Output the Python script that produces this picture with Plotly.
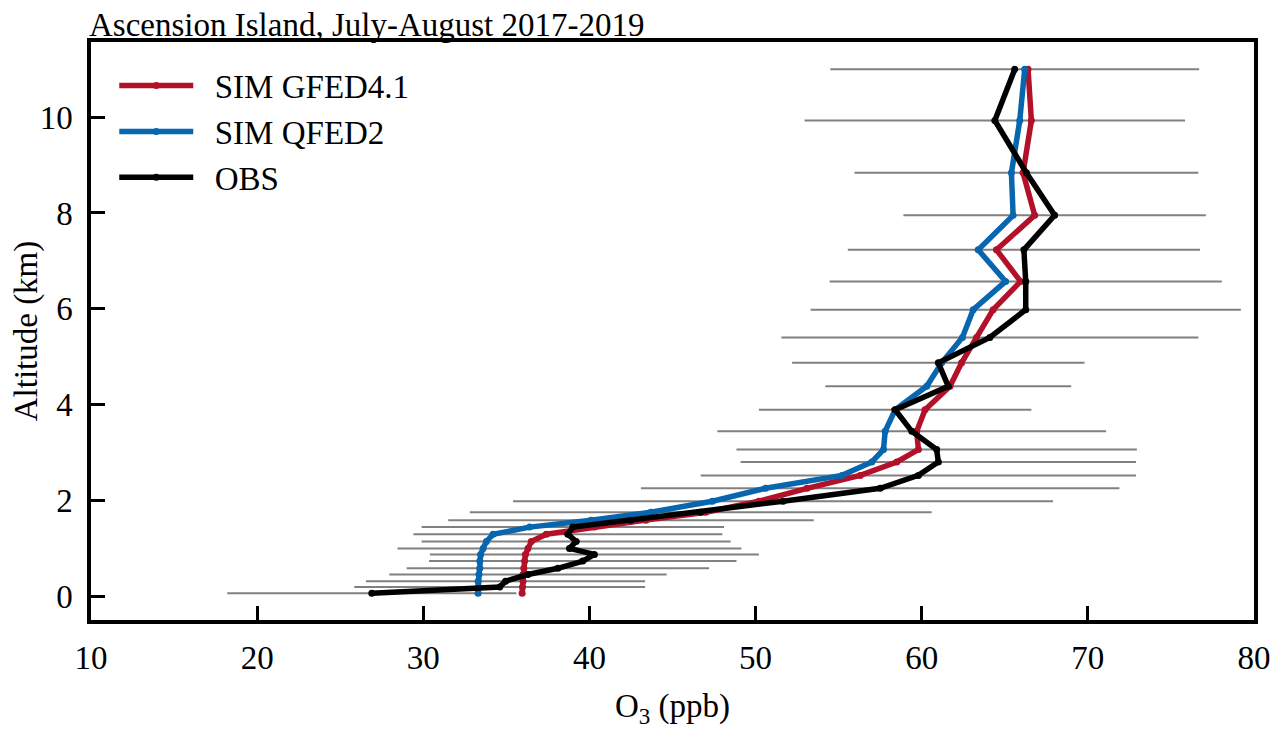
import plotly.graph_objects as go

# altitude levels (km), shared by model and sonde profiles
alt = [0.056, 0.19, 0.31, 0.45, 0.58, 0.73, 0.87, 0.995, 1.14, 1.29,
       1.44, 1.585, 1.75, 1.98, 2.25, 2.52, 2.80, 3.06, 3.44, 3.89,
       4.38, 4.87, 5.40, 5.98, 6.57, 7.23, 7.95, 8.84, 9.93, 11.0]

# ozone (ppb)
sim_gfed = [35.95, 35.97, 36.0, 36.0, 36.05, 36.1, 36.15, 36.3, 36.5, 37.4,
            40.3, 43.4, 47.0, 50.2, 53.1, 56.3, 58.5, 59.8, 59.7, 60.2,
            61.7, 62.4, 63.3, 64.3, 65.95, 64.5, 66.8, 66.1, 66.6, 66.4]
sim_qfed = [33.3, 33.3, 33.3, 33.35, 33.4, 33.4, 33.45, 33.6, 33.8, 34.2,
            36.4, 40.1, 43.7, 47.4, 50.6, 55.2, 57.0, 57.7, 57.8, 58.4,
            60.3, 61.2, 62.45, 63.1, 65.05, 63.4, 65.5, 65.4, 65.9, 66.2]
obs = [26.9, 34.6, 34.95, 36.3, 38.1, 39.6, 40.3, 38.8, 39.2, 38.7,
       39.0, 42.5, 46.7, 51.65, 57.5, 59.8, 61.0, 60.9, 59.4, 58.4,
       61.6, 61.0, 64.1, 66.26, 66.26, 66.15, 68.0, 66.3, 64.4, 65.6]
obs_std = [8.7, 8.75, 8.4, 8.35, 9.1, 9.25, 9.9, 10.35, 9.3, 9.3,
           9.1, 11.0, 13.9, 16.25, 14.4, 13.1, 11.9, 12.05, 11.7, 8.2,
           7.4, 8.8, 12.55, 12.95, 11.8, 10.6, 9.1, 10.35, 11.45, 11.1]

FONT = "Liberation Serif"
FS = 33
red = "#b3112a"
blue = "#0866ae"

fig = go.Figure()

# obs std bars (grey, behind everything)
fig.add_trace(go.Scatter(
    x=obs, y=alt, mode="markers",
    marker=dict(size=1, color="rgba(0,0,0,0)"),
    error_x=dict(type="data", array=obs_std, width=0, thickness=2, color="#808080"),
    showlegend=False, hoverinfo="skip"))

for name, vals, col in [("SIM GFED4.1", sim_gfed, red),
                        ("SIM QFED2", sim_qfed, blue),
                        ("OBS", obs, "black")]:
    fig.add_trace(go.Scatter(
        x=vals, y=alt, name="\u00a0\u00a0" + name, mode="lines+markers",
        line=dict(color=col, width=5.5),
        marker=dict(color=col, size=7)))

axis_common = dict(
    showline=True, mirror=True, linecolor="black", linewidth=3.5,
    ticks="inside", ticklen=14, tickwidth=3, tickcolor="black",
    showgrid=False, zeroline=False, automargin=False,
    tickfont=dict(family=FONT, size=FS, color="black"),
)

fig.update_xaxes(range=[10, 80], dtick=10, ticklabelstandoff=6,
                 title=dict(text="O<sub>3</sub> (ppb)", standoff=20,
                            font=dict(family=FONT, size=FS, color="black")),
                 **axis_common)
fig.update_yaxes(range=[-0.5, 11.57], tickvals=[0, 2, 4, 6, 8, 10], ticklabelstandoff=8,
                 title=dict(text="Altitude (km)", standoff=12,
                            font=dict(family=FONT, size=FS, color="black")),
                 **axis_common)

fig.add_annotation(text="Ascension Island, July-August 2017-2019",
                   x=0, y=1, xref="paper", yref="paper",
                   xanchor="left", yanchor="bottom", showarrow=False,
                   font=dict(family=FONT, size=FS, color="black"),
                   borderpad=0, xshift=-3, yshift=-2)

# page body adds ~8px offset, margins compensate for it
fig.update_layout(
    width=1283, height=737,
    margin=dict(l=83, r=37, t=34, b=125),
    paper_bgcolor="white", plot_bgcolor="white",
    font=dict(family=FONT, color="black"),
    legend=dict(x=0.02, y=0.973, xanchor="left", yanchor="top",
                bgcolor="rgba(0,0,0,0)", font=dict(family=FONT, size=FS),
                itemwidth=74, tracegroupgap=0),
)

fig.write_html("out.html")
